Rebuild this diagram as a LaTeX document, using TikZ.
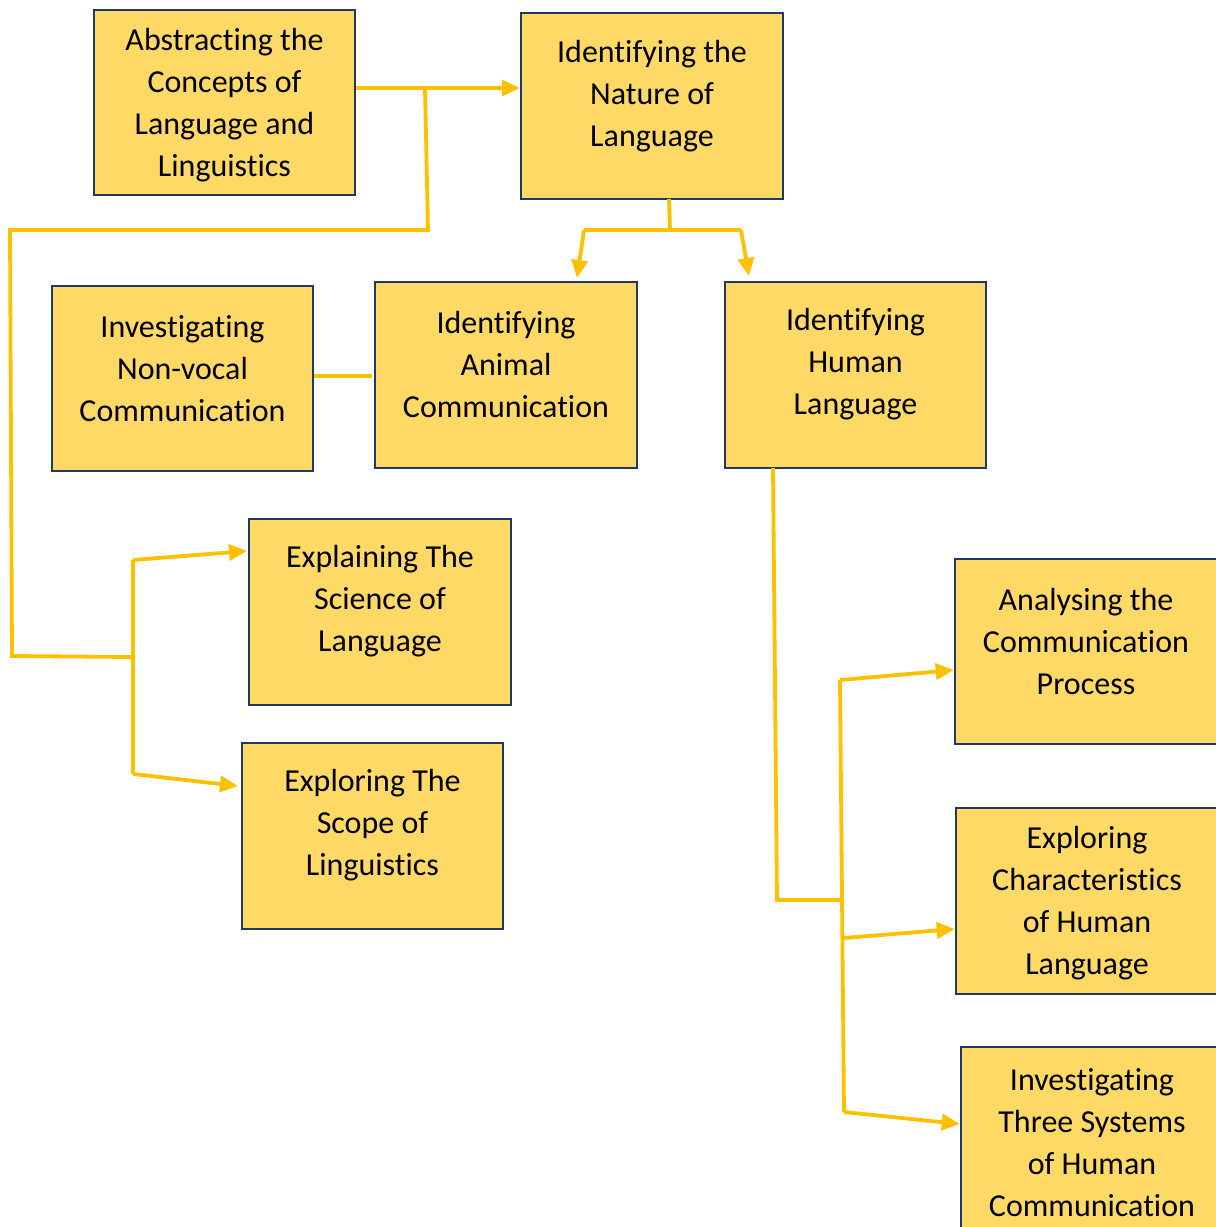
\documentclass[tikz,border=0pt]{standalone}
\usepackage{fontspec}
\setmainfont{Carlito}[RawFeature={-liga}]
\usetikzlibrary{arrows.meta,calc}
\definecolor{boxfill}{HTML}{FFD966}
\definecolor{boxline}{HTML}{1F3864}
\definecolor{conn}{HTML}{FFC000}
\tikzset{
  box/.style={draw=boxline, line width=2.5pt, fill=boxfill, rectangle, inner sep=0pt},
  txt/.style={align=center, font=\fontsize{32}{42}\selectfont, text=black, inner sep=0pt},
  link/.style={draw=conn, line width=3.8pt},
  arr/.style={link, -{Triangle[length=18pt,width=16pt]}},
}
\begin{document}
\begin{tikzpicture}[x=1pt,y=-1pt]
\useasboundingbox (0,0) rectangle (1216,1227);
\clip (0,0) rectangle (1216,1227);
% boxes
\node[box, minimum width=261pt, minimum height=185pt] (b1) at (224.5,102.5) {};
\node[box, minimum width=262pt, minimum height=186pt] (b2) at (652,106) {};
\node[box, minimum width=261pt, minimum height=185pt] (b3) at (182.5,378.5) {};
\node[box, minimum width=262pt, minimum height=186pt] (b4) at (506,375) {};
\node[box, minimum width=261pt, minimum height=186pt] (b5) at (855.5,375) {};
\node[box, minimum width=262pt, minimum height=186pt] (b6) at (380,612) {};
\node[box, minimum width=261pt, minimum height=186pt] (b7) at (372.5,836) {};
\node[box, minimum width=262pt, minimum height=185pt] (b8) at (1086,651.5) {};
\node[box, minimum width=262pt, minimum height=186pt] (b9) at (1087,901) {};
\node[box, minimum width=262pt, minimum height=186pt] (b10) at (1092,1140) {};
% texts
\node[txt] (t1) at (224.5,105) {Abstracting the\\Concepts of\\Language and\\Linguistics};
\node[txt] (t2) at (652,96) {Identifying the\\Nature of\\Language};
\node[txt] (t3) at (182.5,368.5) {Investigating\\Non-vocal\\Communication};
\node[txt] (t4) at (506,364.5) {Identifying\\Animal\\Communication};
\node[txt] (t5) at (855.5,364.5) {Identifying\\Human\\Language};
\node[txt] (t6) at (380,601.5) {Explaining The\\Science of\\Language};
\node[txt] (t7) at (372.5,825.5) {Exploring The\\Scope of\\Linguistics};
\node[txt] (t8) at (1086,641) {Analysing the\\Communication\\Process};
\node[txt] (t9) at (1087,903.5) {Exploring\\Characteristics\\of Human\\Language};
\node[txt] (t10) at (1092,1143) {Investigating\\Three Systems\\of Human\\Communication};
% junction coordinates
\coordinate (j1) at (425,88);
\coordinate (j2) at (428,230);
\coordinate (j3) at (10,230);
\coordinate (j4) at (12,656);
\coordinate (j5) at (133,657);
\coordinate (j6) at (133,560);
\coordinate (j7) at (133,774);
\coordinate (k1) at (670,230);
\coordinate (k2) at (584,230);
\coordinate (k3) at (741,230);
\coordinate (m1) at (777,900);
\coordinate (m2) at (842,900);
\coordinate (m3) at (840,680);
\coordinate (m4) at (844,938);
\coordinate (m5) at (844,1112);
\coordinate (n1) at (372,376);
% connectors
\draw[arr] (b1.east |- j1) -- (j1) -- (b2.west |- j1);
\draw[link] (j1) -- (j2) -- (j3) -- (j4) -- (j5);
\draw[link] (j6) -- (j7);
\draw[arr] (j6) -- (247,551);
\draw[arr] (j7) -- (238,786);
\draw[link] (669,199) -- (k1);
\draw[link] (k2) -- (k3);
\draw[arr] (k2) -- (577,278);
\draw[arr] (k3) -- (749,276);
\draw[link] (b3.east |- n1) -- (n1);
\draw[link] (773,468) -- (m1) -- (m2);
\draw[link] (m3) -- (m5);
\draw[arr] (m3) -- (b8.west |- 0,670);
\draw[arr] (m4) -- (b9.west |- 0,929);
\draw[arr] (m5) -- (b10.west |- 0,1124);
\end{tikzpicture}
\end{document}
